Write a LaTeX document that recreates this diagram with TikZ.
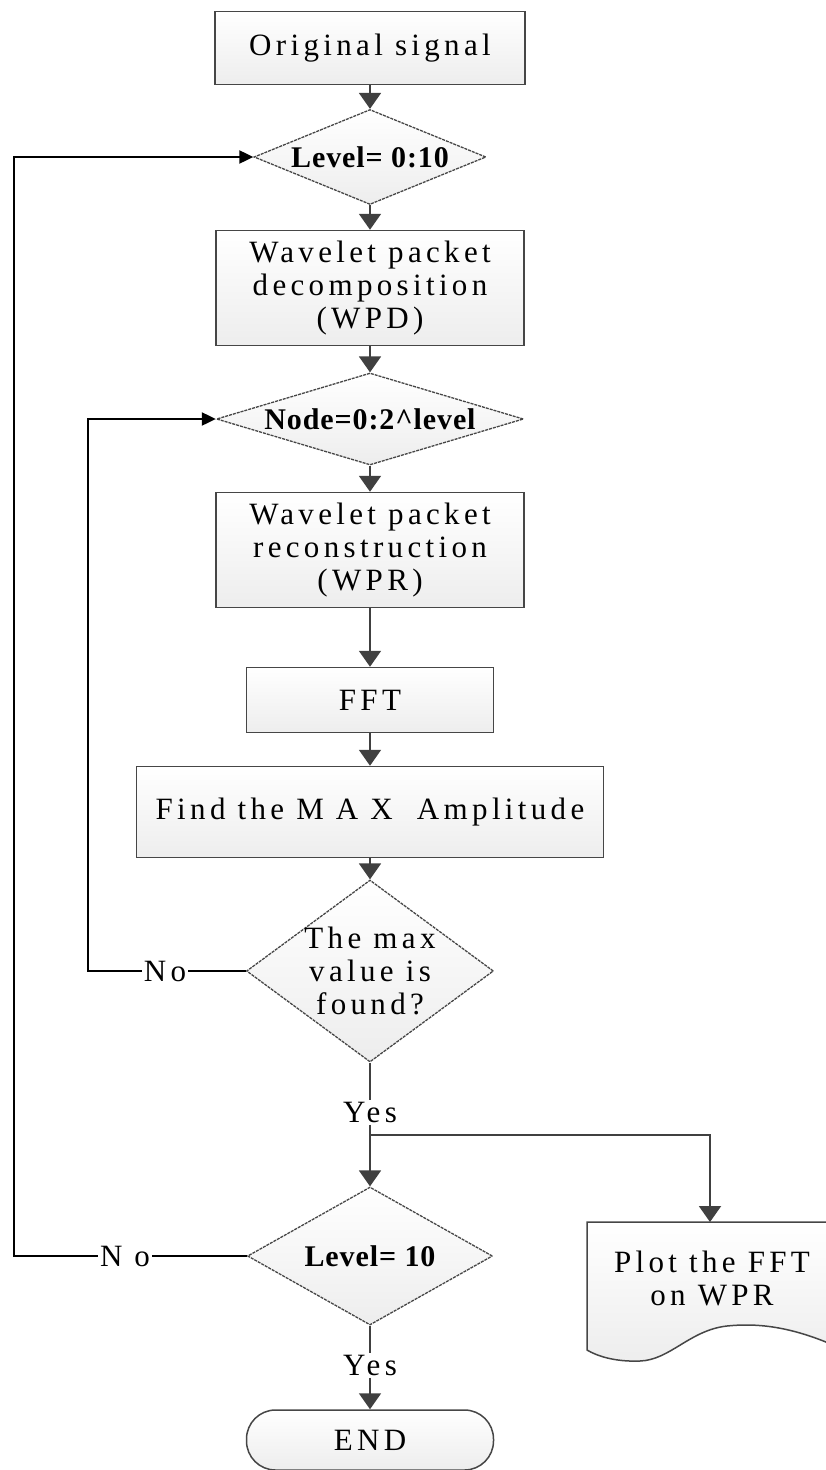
\documentclass[tikz,border=0pt]{standalone}
\usepackage{fontspec}
\setmainfont{Liberation Serif}[LetterSpace=14]
\usetikzlibrary{shapes.geometric,arrows.meta}
\tikzset{
  txt/.style={font=\fontsize{31}{33}\selectfont, align=center},
  box/.style 2 args={draw=gray!55!black, line width=1.5pt, top color=white, bottom color=gray!14,
    minimum width=#1, minimum height=#2, txt},
  decision/.style 2 args={shape=diamond, draw=gray!55!black, line width=1.3pt, dash pattern=on 3pt off 1pt,
    top color=white, bottom color=gray!14, inner sep=0pt, minimum width=#1, minimum height=#2},
  dtext/.style={align=center, font=\fontsize{30}{33}\selectfont\bfseries\addfontfeature{LetterSpace=3}},
  term/.style={draw=gray!55!black, line width=1.5pt, top color=white, bottom color=gray!14,
    rounded corners=29pt, minimum width=247, minimum height=60, txt},
  lbl/.style={txt, inner sep=2pt},
  tip/.tip={Triangle[width=22pt, length=16pt]},
  arr/.style={draw=black!75, line width=2pt, -tip},
  flow/.style={draw=black!75, line width=2pt},
  back/.style={draw=black, line width=2pt},
  backarr/.style={back, -{Triangle[width=13pt, length=14pt]}},
}
\begin{document}
\begin{tikzpicture}[x=1pt, y=-1pt]
  \useasboundingbox (0,0) rectangle (825,1470);
  % boxes of the main column
  \node[box={310}{73}] (orig) at (370,48) {Original signal};
  \node[decision={232}{95}, label={[dtext]center:Level=\ 0:10}] (lev) at (370,157) {};
  \node[box={308}{115}] (wpd) at (370,288) {Wavelet packet\\decomposition\\(WPD)};
  \node[decision={307}{92}, label={[dtext]center:Node=0:2\textasciicircum level}] (nod) at (370,419) {};
  \node[box={308}{115}] (wpr) at (370,550) {Wavelet packet\\reconstruction\\(WPR)};
  \node[box={247}{65}] (fft) at (370,700) {FFT};
  \node[box={467}{91}] (fmax) at (370,812) {Find the M A X\ \ Amplitude};
  \node[decision={247}{182}, label={[txt]center:The max\\value is\\found?}] (found) at (370,971) {};
  \node[decision={245}{138}, label={[dtext]center:Level= 10}] (lten) at (370,1256) {};
  \node[term] (fin) at (370,1440) {END};
  % printed output
  \path[draw=gray!55!black, line width=1.5pt, top color=white, bottom color=gray!14]
    (840,1345) -- (840,1222) -- (587,1222) -- (587,1350)
    .. controls (597,1356) and (615,1362) .. (640,1361)
    .. controls (670,1360) and (690,1330) .. (727,1326)
    .. controls (765,1322) and (800,1330) .. (840,1348);
  \node[lbl] (plot) at (712,1278) {Plot the FFT\\on WPR};
  \coordinate (ptop) at (710,1222);
  % labels
  \node[lbl] (no1) at (165,971) {No};
  \node[lbl] (no2) at (125,1256) {N o};
  \node[lbl] (yes1) at (370,1112) {Yes};
  \node[lbl] (yes2) at (370,1365) {Yes};
  \coordinate (br) at (370,1135);
  \coordinate (c1) at (88,971);
  \coordinate (c2) at (14,1256);
  % connectors
  \draw[arr] (orig.south) -- (lev.north);
  \draw[arr] (lev.south) -- (wpd.north);
  \draw[arr] (wpd.south) -- (nod.north);
  \draw[arr] (nod.south) -- (wpr.north);
  \draw[arr] (wpr.south) -- (fft.north);
  \draw[arr] (fft.south) -- (fmax.north);
  \draw[arr] (fmax.south) -- (found.north);
  \draw[flow] (found.south) -- (yes1.north);
  \draw[arr] (yes1.south) -- (lten.north);
  \draw[arr] (br) -| (ptop);
  \draw[flow] (lten.south) -- (yes2.north);
  \draw[arr] (yes2.south) -- (fin.north);
  \draw[back] (found.west) -- (no1.east);
  \draw[backarr] (no1.west) -- (c1) |- (nod.west);
  \draw[back] (lten.west) -- (no2.east);
  \draw[backarr] (no2.west) -- (c2) |- (lev.west);
\end{tikzpicture}
\end{document}
